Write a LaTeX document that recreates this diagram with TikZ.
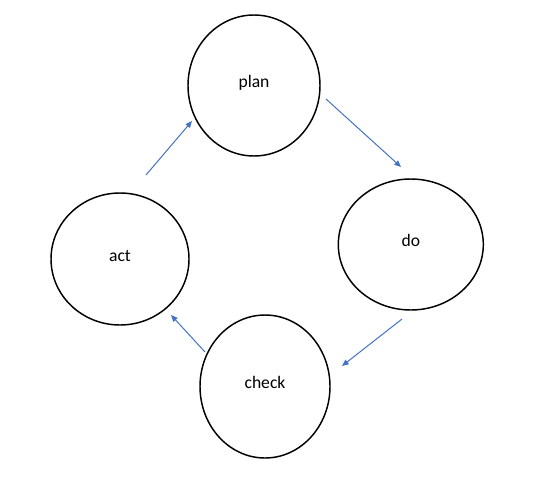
\documentclass[tikz,border=0pt]{standalone}
\usepackage{fontspec}
\setmainfont{Carlito}
\usetikzlibrary{shapes.geometric,arrows.meta}
\definecolor{arrowblue}{HTML}{4472C4}
\begin{document}
\begin{tikzpicture}[x=0.75pt,y=-0.75pt,
  stage/.style={draw=black,line width=1.1pt,ellipse,inner sep=0pt,
    font=\fontsize{13.2}{15}\selectfont,text height=0.55em,text depth=0.25em},
  flow/.style={draw=arrowblue,line width=0.75pt,-{Triangle[length=5pt,width=4.2pt]}}]
\useasboundingbox[fill=white] (0,0) rectangle (534,481);
\node[stage,minimum width=132*0.75pt,minimum height=141*0.75pt] (plan) at (254,85.5) {plan};
\node[stage,minimum width=145*0.75pt,minimum height=131*0.75pt] (do) at (410.8,244.5) {do};
\node[stage,minimum width=138*0.75pt,minimum height=132*0.75pt] (act) at (120,259) {act};
\node[stage,minimum width=130*0.75pt,minimum height=143*0.75pt] (check) at (265,386.5) {check};
\coordinate (a1) at (146,175); \coordinate (a2) at (192,121);
\coordinate (b1) at (326,99); \coordinate (b2) at (401,167);
\coordinate (c1) at (402,319); \coordinate (c2) at (342,366);
\coordinate (d1) at (205,352); \coordinate (d2) at (171,315);
\draw[flow] (a1) -- (a2);
\draw[flow] (b1) -- (b2);
\draw[flow] (c1) -- (c2);
\draw[flow] (d1) -- (d2);
\end{tikzpicture}
\end{document}
